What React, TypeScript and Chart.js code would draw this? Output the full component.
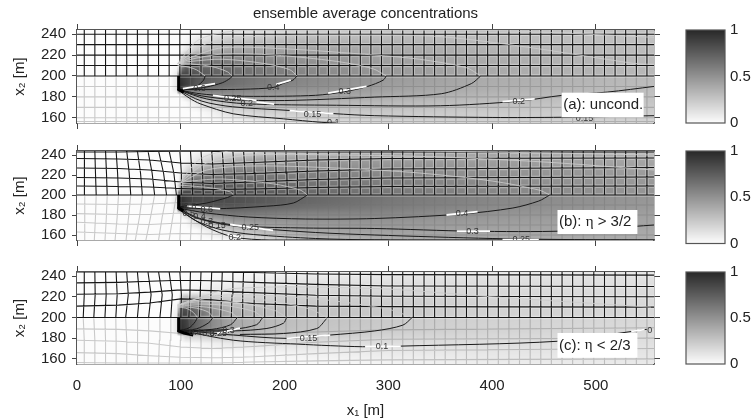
import { useEffect, useRef } from "react";
import { Chart, registerables } from "chart.js";

Chart.register(...registerables);
Chart.defaults.font.family = '"Liberation Sans", Arial, sans-serif';

const TITLE = "ensemble average concentrations";
const X_TICKS = [0, 100, 200, 300, 400, 500];
const Y_TICKS = [160, 180, 200, 220, 240];
const BAR_TICKS = [0, 0.5, 1];
const BAR_LEVELS = [0, 1];

const HEAT_X = [90, 96, 98, 100, 105, 115, 130, 150, 180, 220, 300, 400, 556];
const HEAT_Y = [244, 235, 225, 215, 210, 205, 200, 192, 187, 182, 175, 165, 155];

const heatA = [
  [0, 0, 0, 0, 0, 0.01, 0.05, 0.1, 0.14, 0.19, 0.25, 0.27, 0.27],
  [0, 0, 0, 0, 0.02, 0.08, 0.16, 0.24, 0.28, 0.32, 0.33, 0.31, 0.28],
  [0, 0, 0, 0.03, 0.1, 0.24, 0.36, 0.42, 0.42, 0.42, 0.4, 0.35, 0.3],
  [0, 0, 0.03, 0.2, 0.45, 0.6, 0.62, 0.58, 0.55, 0.5, 0.44, 0.38, 0.31],
  [0, 0.02, 0.1, 0.45, 0.72, 0.72, 0.68, 0.64, 0.6, 0.54, 0.46, 0.39, 0.32],
  [0, 0.05, 0.3, 0.7, 0.8, 0.76, 0.72, 0.68, 0.62, 0.55, 0.47, 0.39, 0.32],
  [0, 0.1, 0.82, 0.92, 0.88, 0.8, 0.74, 0.68, 0.62, 0.56, 0.47, 0.38, 0.31],
  [0, 0.1, 0.92, 0.96, 0.9, 0.78, 0.7, 0.66, 0.6, 0.54, 0.45, 0.37, 0.3],
  [0, 0.1, 0.96, 0.92, 0.72, 0.68, 0.62, 0.58, 0.54, 0.5, 0.43, 0.36, 0.29],
  [0, 0, 0, 0.02, 0.2, 0.4, 0.5, 0.5, 0.47, 0.44, 0.39, 0.33, 0.28],
  [0, 0, 0, 0, 0.01, 0.1, 0.22, 0.3, 0.34, 0.34, 0.32, 0.29, 0.26],
  [0, 0, 0, 0, 0, 0, 0.05, 0.14, 0.2, 0.23, 0.24, 0.23, 0.22],
  [0, 0, 0, 0, 0, 0, 0, 0.02, 0.08, 0.14, 0.18, 0.19, 0.19],
];
const heatB = [
  [0, 0, 0, 0, 0, 0.02, 0.06, 0.14, 0.22, 0.3, 0.36, 0.38, 0.36],
  [0, 0, 0, 0, 0.02, 0.1, 0.22, 0.36, 0.44, 0.46, 0.45, 0.44, 0.4],
  [0, 0, 0, 0.03, 0.14, 0.34, 0.5, 0.56, 0.56, 0.54, 0.52, 0.49, 0.44],
  [0, 0, 0.03, 0.22, 0.5, 0.66, 0.7, 0.7, 0.66, 0.62, 0.58, 0.52, 0.46],
  [0, 0.02, 0.1, 0.5, 0.72, 0.76, 0.76, 0.74, 0.7, 0.66, 0.6, 0.54, 0.47],
  [0, 0.05, 0.35, 0.7, 0.8, 0.82, 0.8, 0.78, 0.74, 0.68, 0.61, 0.55, 0.48],
  [0, 0.1, 0.85, 0.95, 0.9, 0.86, 0.84, 0.82, 0.78, 0.72, 0.64, 0.56, 0.48],
  [0, 0.1, 0.95, 0.98, 0.92, 0.84, 0.84, 0.82, 0.76, 0.7, 0.62, 0.55, 0.47],
  [0, 0.1, 0.98, 0.95, 0.8, 0.76, 0.74, 0.74, 0.7, 0.66, 0.6, 0.53, 0.46],
  [0, 0, 0, 0.03, 0.3, 0.5, 0.6, 0.64, 0.62, 0.58, 0.56, 0.5, 0.44],
  [0, 0, 0, 0, 0.02, 0.2, 0.38, 0.48, 0.5, 0.5, 0.5, 0.46, 0.42],
  [0, 0, 0, 0, 0, 0.01, 0.1, 0.26, 0.36, 0.42, 0.44, 0.42, 0.4],
  [0, 0, 0, 0, 0, 0, 0, 0.04, 0.16, 0.3, 0.38, 0.38, 0.38],
];
const heatC = [
  [0, 0, 0, 0, 0, 0, 0, 0.01, 0.03, 0.05, 0.08, 0.1, 0.11],
  [0, 0, 0, 0, 0, 0.01, 0.03, 0.05, 0.08, 0.11, 0.13, 0.14, 0.13],
  [0, 0, 0, 0, 0.01, 0.04, 0.08, 0.12, 0.16, 0.18, 0.18, 0.17, 0.15],
  [0, 0, 0.05, 0.45, 0.55, 0.45, 0.32, 0.26, 0.24, 0.24, 0.22, 0.19, 0.16],
  [0, 0.03, 0.3, 0.78, 0.78, 0.62, 0.46, 0.34, 0.28, 0.27, 0.23, 0.2, 0.17],
  [0, 0.06, 0.5, 0.85, 0.84, 0.7, 0.52, 0.38, 0.31, 0.28, 0.24, 0.2, 0.17],
  [0, 0.1, 0.85, 0.92, 0.88, 0.72, 0.54, 0.4, 0.32, 0.28, 0.24, 0.2, 0.17],
  [0, 0.1, 0.92, 0.96, 0.9, 0.72, 0.54, 0.4, 0.32, 0.27, 0.23, 0.19, 0.16],
  [0, 0.1, 0.96, 0.98, 0.9, 0.7, 0.48, 0.38, 0.3, 0.26, 0.22, 0.19, 0.16],
  [0, 0, 0, 0.05, 0.2, 0.2, 0.24, 0.25, 0.24, 0.21, 0.19, 0.17, 0.15],
  [0, 0, 0, 0, 0.01, 0.03, 0.06, 0.09, 0.11, 0.13, 0.14, 0.14, 0.13],
  [0, 0, 0, 0, 0, 0, 0, 0.01, 0.02, 0.05, 0.08, 0.1, 0.11],
  [0, 0, 0, 0, 0, 0, 0, 0, 0, 0.01, 0.04, 0.07, 0.09],
];

// mesh columns (m)
const meshX = [7, 17.2, 27.5, 37.7, 47.9, 58.2, 68.4, 78.6, 88.8, 99.1, 109.3, 119.5, 129.8, 140, 150.2, 160.5, 170.7, 180.9, 191.1, 201.4, 211.6, 221.8, 232.1, 242.3, 252.5, 262.8, 273, 283.2, 293.4, 303.7, 313.9, 324.1, 334.4, 344.6, 354.8, 365.1, 375.3, 385.5, 395.7, 406, 416.2, 426.4, 436.7, 446.9, 457.1, 467.4, 477.6, 487.8, 498, 508.3, 518.5, 528.7, 539, 549.2];
const shiftY = [155, 178, 200, 222, 244];
const shiftA: number[][] = [];
const shiftB = [
  [0, 0.3, 0.6, 0.3, 0], [-0.5, 0.6, 1.3, 0.6, 0], [-0.5, 0.8, 1.6, 0.9, 0], [-1, 1, 2.3, 1.4, 0],
  [-0.6, 1.8, 3.9, 2.4, 0], [-2, 2, 4.8, 3, 0], [-2, 2.5, 6.4, 4, 0], [0, 3.5, 7.7, 4.8, 0],
  [0, 3.5, 7, 4.5, 0], [0, 1, 1.5, 1.5, 0], [0, 1, 2.2, 1.5, 0], [0, 1, 2.2, 1.5, 0],
  [0, 1, 2.2, 1.5, 0], [0, 1, 2.2, 1.5, 0], [0, 1, 2.2, 1.5, 0], [0, 1, 2.2, 1.5, 0],
  [0, 0.6, 1.2, 0.8, 0], [0, 0.6, 1.2, 0.8, 0], [0, 0.6, 1.2, 0.8, 0], [0, 0.6, 1.2, 0.8, 0],
  [0, 0.6, 1.2, 0.8, 0],
];
const shiftC = [
  [0, 0, -1, 0, 0], [0, 0, -1, 0.3, 0], [0, 0, -0.6, 0.6, 0], [0, 0, -0.3, 1, 0],
  [0, 0, -1, 1.5, 0], [0, 0.3, 0, 2, 0], [0, 0.5, 0.6, 3, 0], [0, 0.8, 1.3, 3.5, 0],
  [0, 1, 1.6, 3, 0], [0, 0.5, 1, 1.5, 0], [0, 0, -1.5, -0.5, 0], [0, 0, -1.5, -0.8, 0],
  [0, 0, -1.5, -0.8, 0], [0, 0, -1.5, -0.8, 0], [0, 0, -1.5, -0.8, 0], [0, 0, -1.5, -0.8, 0],
];

// mesh rows: y at these x knots
const rowX = [0, 40, 70, 100, 130, 170, 230, 300, 556];
const rowsUpperA = [
  [240, 240, 240, 240, 240, 240, 240, 240, 240],
  [230, 230, 230, 230, 230, 230, 230, 230, 230],
  [220, 220, 220, 220, 220, 220, 220, 220, 220],
  [210, 210, 210, 210, 210, 210, 210, 210, 210],
  [200, 200, 200, 200, 200, 200, 200, 200, 200],
];
const rowsLowerA = [
  [190, 190, 190, 190, 190, 190, 190, 190, 190],
  [180, 180, 180, 180, 180, 180, 180, 180, 180],
  [170, 170, 170, 170, 170, 170, 170, 170, 170],
  [160, 160, 160, 160, 160, 160, 160, 160, 160],
  [156.5, 156.5, 156.5, 156.5, 156.5, 156.5, 156.5, 156.5, 156.5],
];
const rowsUpperB = [
  [243, 243, 243.5, 243.8, 243.8, 243.5, 243, 243, 243],
  [236.5, 236, 235, 232, 231, 232.5, 235, 236.5, 237],
  [227, 226.5, 225, 222, 220.5, 221.5, 224, 226, 227.5],
  [217.5, 217, 216, 213, 211.5, 213, 215.5, 217, 218],
  [209, 208.5, 208, 206.5, 205.5, 206, 207.5, 208.5, 209],
  [200, 200, 200, 200, 200, 200, 200, 200, 200],
];
const rowsLowerB = [
  [191, 190.5, 191, 192.5, 192, 191, 190.5, 190, 190],
  [181.4, 180.5, 180.5, 182, 181, 180.5, 180, 180, 180],
  [172.7, 171, 170.5, 172, 171, 170.5, 170, 170, 170],
  [163, 161.5, 160.5, 161.5, 161, 160.5, 160, 160, 160],
];
const rowsUpperC = [
  [244, 244, 244, 244, 244, 243.5, 242, 241.5, 241],
  [233.5, 234, 235, 236, 235.5, 234, 232, 230.5, 230],
  [222.5, 223, 224.5, 226.7, 226, 224, 221.5, 220.5, 220],
  [211, 212, 214, 218, 217, 213.5, 211, 210.5, 210],
  [200, 200, 200, 200, 200, 200, 200, 200, 200],
];
const rowsLowerC = [
  [189, 188.5, 187, 184.5, 183, 184, 186, 188, 190],
  [178, 177, 175, 171.5, 170, 172, 176, 179, 180],
  [166, 165, 163, 161.5, 161, 162, 165, 168, 170],
  [156.5, 156, 156, 156, 156, 157, 158, 159, 160],
];

// contours
const lowerA = [
  [[97, 187], [105, 187.2], [115, 190], [122, 196], [123.5, 200]],
  [[97, 187], [110, 187.5], [125, 189.5], [140, 193.5], [148, 198], [149.5, 200]],
  [[97, 187], [130, 187], [160, 187.3], [189, 189], [199, 193], [208, 196], [212, 200]],
  [[97, 187], [115, 183.5], [135, 181.5], [170, 180.5], [230, 181.5], [258, 185], [280, 190], [295, 196], [298, 200]],
  [[97, 187], [120, 181], [150, 177.5], [200, 176.5], [287, 179.8], [351, 183], [380, 192.7], [389, 200]],
  [[97, 187], [125, 178], [163, 173.4], [250, 172], [350, 171.5], [425.7, 175.9], [467, 181.4], [511, 184.6], [556, 190]],
  [[97, 187], [120, 176], [150, 170.5], [205, 167], [247, 164], [287, 162], [400, 160.3], [467, 160.5], [556, 162]],
  [[97, 187], [108, 179], [118.7, 173.4], [150.6, 163.8], [198.8, 159], [236, 155.6], [250, 155]],
];
const upperA = [
  [[123.5, 200], [115, 206], [105, 209], [97, 210]],
  [[149.5, 200], [145, 204], [130, 209], [110, 211.5], [97, 212]],
  [[212, 200], [205, 206], [180, 212], [140, 216], [110, 214], [97, 212]],
  [[298, 200], [285, 207], [250, 214], [190, 220], [140, 221], [110, 216], [97, 212]],
  [[389, 200], [375, 208], [330, 216], [287, 220], [200, 226], [140, 227], [110, 218], [97, 212]],
  [[556, 211], [537, 212], [431, 228], [351, 237.6], [285, 239], [170, 237.7], [125, 231], [99, 213.5]],
  [[556, 237], [400, 243.5], [160, 243.5], [118, 235], [97, 212]],
];
const lowerB = [
  [[97, 188], [125, 192], [145, 197.5], [150.7, 200]],
  [[97, 187.5], [131.5, 186.2], [182.8, 188.8], [208.5, 192], [222, 200]],
  [[97, 187], [125, 182], [165, 178], [220, 176], [287, 176.5], [371, 181], [420, 187], [445, 194], [455.6, 200]],
  [[97, 187], [120, 176], [160, 169], [220, 167], [287, 166.5], [381, 163.8], [470, 164], [556, 170]],
  [[97, 187], [115, 177], [145, 170], [167, 167.2], [230, 162.5], [287, 160], [400, 156.5], [490, 155.3], [556, 155]],
  [[97, 187], [115, 174], [140, 165], [170, 160.5], [230, 156.5], [287, 155.2], [556, 155]],
  [[97, 186], [125, 168], [150.7, 158], [186, 155], [300, 154.8]],
];
const upperB = [
  [[150.7, 200], [148, 203], [130, 207], [110, 209], [97, 210]],
  [[222, 200], [215, 205], [190, 211], [140, 216], [110, 214], [97, 212]],
  [[455.6, 200], [445, 205], [400, 214], [330, 222], [250, 227], [170, 229], [125, 225], [100, 212]],
  [[556, 225], [450, 233], [350, 238], [250, 240], [170, 240], [125, 232], [100, 213]],
  [[556, 240], [400, 243], [300, 244.5], [150, 244], [120, 237], [100, 214]],
];
const lowerC = [
  [[97, 187], [108, 190], [114, 196], [116, 200]],
  [[97, 187], [115, 189], [127, 195], [131, 200]],
  [[97, 187], [130, 188.5], [148, 193], [154.5, 200]],
  [[97, 187], [150.7, 188.7], [173, 193], [179, 200]],
  [[97, 187], [150.7, 187], [183, 189.4], [199, 194.5], [202, 200]],
  [[157, 183.6], [199, 184.5], [231, 189.3], [240.6, 199]],
  [[100, 187.7], [150.7, 183], [202, 179.8], [243.8, 183], [287, 187], [314, 192.6], [323, 200]],
  [[99, 187.7], [150.7, 178], [213, 174.2], [275, 171.7], [312, 172.3], [463, 177], [531, 186], [549, 188.5]],
];
const upperC = [
  [[116, 200], [112, 205], [105, 209], [97, 210]],
  [[131, 200], [127, 205], [115, 209], [97, 211]],
  [[154.5, 200], [148, 205], [125, 210], [97, 212]],
  [[179, 200], [170, 206], [140, 212], [110, 213], [97, 212]],
  [[202, 200], [190, 207], [150, 215], [115, 215], [97, 212]],
  [[240.6, 200], [225, 208], [180, 217], [130, 219], [100, 213]],
  [[323, 200], [300, 208], [230, 218], [150, 222], [115, 218], [100, 213]],
  [[553, 210], [400, 220], [287, 228], [150.7, 228], [105.8, 215], [98, 212]],
];
const sourceA = [[[98, 200], [98, 187], [103, 184.5]]];
const sourceB = [[[98, 200], [98, 187], [103, 184]]];
const sourceC = [[[98, 200], [98, 187], [103, 185], [112, 183]]];

// white label breaks on contours
const whiteA = [
  [[102, 188], [133, 192.7]], [[192, 192], [206, 196]], [[242, 183.5], [279, 190]],
  [[131, 181.4], [173, 176.6]], [[173, 175], [190, 173]], [[205, 166.8], [247, 164]], [[410, 175.5], [441, 178]],
];
const whiteB = [
  [[106, 188.8], [138, 186.2]], [[147.5, 170.5], [189, 164.7]], [[145, 160.5], [158, 157.5]],
  [[356, 180], [386, 183.3]], [[366, 163.9], [398, 163.9]], [[410, 155.4], [445, 155.4]],
];
const whiteC = [
  [[135, 184.7], [157, 189.6]], [[202, 179.8], [244, 183]], [[277.6, 171.7], [312, 172.3]], [[534, 186.6], [547, 188.3]],
];

const labelsA = [
  { x: 118, y: 188, t: "0.6" }, { x: 189, y: 188.8, t: "0.4" }, { x: 258, y: 185.2, t: "0.3" },
  { x: 150, y: 178, t: "0.25" }, { x: 163.6, y: 173.4, t: "0.2" }, { x: 227, y: 163, t: "0.15" },
  { x: 247, y: 155, t: "0.1" }, { x: 425.7, y: 175.9, t: "0.2" }, { x: 489, y: 159.5, t: "0.15" },
];
const labelsB = [
  { x: 109, y: 188.8, t: "0.8" }, { x: 125, y: 185.7, t: "0.6" }, { x: 107.6, y: 181.4, t: "0.5" },
  { x: 118, y: 178.5, t: "0.4" }, { x: 125, y: 173, t: "0.3" }, { x: 135, y: 169.5, t: "0.15" },
  { x: 167, y: 167.2, t: "0.25" }, { x: 152, y: 157, t: "0.2" }, { x: 371, y: 181, t: "0.4" },
  { x: 381, y: 163.8, t: "0.3" }, { x: 428, y: 155.5, t: "0.25" },
];
const labelsC = [
  { x: 113.9, y: 185.2, t: "0.4" }, { x: 126.7, y: 184.7, t: "0.3" }, { x: 136, y: 184.7, t: "0.25" },
  { x: 146, y: 187, t: "0.3" }, { x: 223, y: 179.8, t: "0.15" }, { x: 294, y: 171.5, t: "0.1" },
  { x: 552, y: 187.8, t: "0" },
];

const notes = [
  { box: [467, 546, 160.5, 184], parts: ["(a): uncond."] },
  { box: [463, 540, 161, 185], parts: ["(b): ", "η", " > 3/2"] },
  { box: [463, 540, 161, 185], parts: ["(c): ", "η", " < 2/3"] },
];

const gray = (v: number) => {
  const g = Math.round(252 - 212 * Math.max(0, Math.min(1, v)));
  return `rgb(${g},${g},${g})`;
};

function lookup(a: number[], v: number) {
  const asc = a[a.length - 1] > a[0];
  let i = 0;
  for (; i < a.length - 2; i++) {
    if (asc ? v < a[i + 1] : v > a[i + 1]) break;
  }
  const t = Math.max(0, Math.min(1, (v - a[i]) / (a[i + 1] - a[i])));
  return [i, t];
}

const heatPlugin = (xs: number[], ys: number[], table: number[][]) => ({
  id: "heat",
  beforeDatasetsDraw(chart: any) {
    const { left, right, top, bottom } = chart.chartArea;
    const sx = chart.scales.x, sy = chart.scales.y;
    const { ctx } = chart;
    ctx.save();
    for (let py = Math.floor(top); py < bottom; py++) {
      const [j, v] = lookup(ys, sy.getValueForPixel(py + 0.5));
      for (let px = Math.floor(left); px < right; px++) {
        const [i, u] = lookup(xs, sx.getValueForPixel(px + 0.5));
        const a = table[j][i] * (1 - u) + table[j][i + 1] * u;
        const b = table[j + 1][i] * (1 - u) + table[j + 1][i + 1] * u;
        ctx.fillStyle = gray(a * (1 - v) + b * v);
        ctx.fillRect(px, py, 1, 1);
      }
    }
    ctx.restore();
  },
});

const notesPlugin = (labels: { x: number; y: number; t: string }[], note: { box: number[]; parts: string[] }) => ({
  id: "notes",
  afterDatasetsDraw(chart: any) {
    const { ctx, chartArea: ca } = chart;
    const sx = chart.scales.x, sy = chart.scales.y;
    ctx.save();
    ctx.beginPath();
    ctx.rect(ca.left, ca.top, ca.right - ca.left, ca.bottom - ca.top);
    ctx.clip();
    ctx.font = '9px "Liberation Sans"';
    ctx.fillStyle = "#333";
    ctx.textAlign = "center";
    ctx.textBaseline = "middle";
    labels.forEach((l) => ctx.fillText(l.t, sx.getPixelForValue(l.x), sy.getPixelForValue(l.y)));
    const [x0, x1, y0, y1] = note.box;
    const bx = sx.getPixelForValue(x0), ex = sx.getPixelForValue(x1);
    const by = sy.getPixelForValue(y1), ey = sy.getPixelForValue(y0);
    ctx.fillStyle = "#fff";
    ctx.fillRect(bx, by, ex - bx, ey - by);
    ctx.fillStyle = "#222";
    ctx.textAlign = "left";
    let tx = bx + 1.5;
    note.parts.forEach((p, i) => {
      ctx.font = i === 1 ? '15px "Liberation Serif"' : '15px "Liberation Sans"';
      ctx.fillText(p, tx, (by + ey) / 2);
      tx += ctx.measureText(p).width;
    });
    ctx.restore();
  },
});

const polyline = (lines: number[][][]) => {
  const out: { x: number; y: number }[] = [];
  lines.forEach((l) => {
    l.forEach(([x, y]) => out.push({ x, y }));
    out.push({ x: NaN, y: NaN });
  });
  return out;
};
const line = (lines: number[][][], color: string, width: number, tension = 0) => ({
  type: "scatter",
  showLine: true,
  data: polyline(lines),
  borderColor: color,
  borderWidth: width,
  pointRadius: 0,
  tension,
  fill: false,
});

function meshColumns(shift: number[][], from: number, to: number) {
  return meshX.map((x, k) => {
    const s = shift[k] || [0, 0, 0, 0, 0];
    return shiftY.slice(from, to).map((y, n) => [x + s[n + from], y]);
  });
}
const meshRows = (rows: number[][]) => rows.map((r) => r.map((y, i) => [rowX[i], y]));

const tickSet = (arr: number[]) => (axis: any) => {
  axis.ticks = arr.map((value) => ({ value }));
};

interface PanelSpec {
  heat: number[][];
  shift: number[][];
  rowsUp: number[][];
  rowsLow: number[][];
  upper: number[][][];
  lower: number[][][];
  source: number[][][];
  white: number[][][];
  labels: { x: number; y: number; t: string }[];
  note: { box: number[]; parts: string[] };
  topH: number;
  bottomH: number;
  showX: boolean;
  title?: string;
}

function panelConfig(p: PanelSpec): any {
  const border = { color: "#555", width: 1.4 };
  const tick = { drawOnChartArea: false, tickColor: "#444", tickLength: 6, tickWidth: 1 };
  const up = [...meshColumns(p.shift, 2, 5), ...meshRows(p.rowsUp)];
  const low = [...meshColumns(p.shift, 0, 3), ...meshRows(p.rowsLow)];
  return {
    type: "scatter",
    data: {
      datasets: [
        line(p.source, "#000", 3),
        line(p.white, "#fff", 1.8),
        line(p.lower, "#1a1a1a", 1, 0.3),
        line(p.upper, "rgba(205,205,205,0.8)", 1, 0.3),
        line(up, "#151515", 1.1),
        line(up, "rgba(255,255,255,0.32)", 3.4),
        line(low, "rgba(110,110,110,0.36)", 1.1),
      ],
    },
    options: {
      responsive: false,
      animation: false,
      layout: { padding: 0 },
      plugins: {
        legend: { display: false },
        tooltip: { enabled: false },
        title: p.title
          ? { display: true, text: p.title, color: "#222", font: { size: 15, weight: "normal" }, padding: { top: 5, bottom: 0 } }
          : { display: false },
      },
      scales: {
        x: {
          type: "linear",
          min: 0,
          max: 556,
          position: "bottom",
          border,
          grid: { ...tick, drawTicks: !p.showX },
          afterBuildTicks: tickSet(X_TICKS),
          afterFit: (s: any) => { s.height = p.bottomH; },
          ticks: {
            display: p.showX,
            color: "#222",
            font: { size: 15 },
            padding: 13,
            maxRotation: 0,
            autoSkip: false,
            callback: (v: number) => String(v),
          },
          title: p.showX
            ? { display: true, text: "x₁ [m]", color: "#222", font: { size: 15 }, padding: { top: 0, bottom: 0 } }
            : { display: false },
        },
        xTop: {
          type: "linear",
          axis: "x",
          min: 0,
          max: 556,
          position: "top",
          border,
          grid: tick,
          afterBuildTicks: tickSet(X_TICKS),
          afterFit: (s: any) => { s.height = p.topH; },
          ticks: { display: false },
        },
        y: {
          type: "linear",
          min: 155,
          max: 244,
          position: "left",
          border,
          grid: { ...tick, tickLength: 5 },
          afterBuildTicks: tickSet(Y_TICKS),
          afterFit: (s: any) => { s.width = 77; },
          ticks: { color: "#222", font: { size: 15 }, padding: 6, autoSkip: false, callback: (v: number) => String(v) },
          title: { display: true, text: "x₂ [m]", color: "#222", font: { size: 15 }, padding: { top: 11, bottom: 0 } },
        },
        yRight: {
          type: "linear",
          axis: "y",
          min: 155,
          max: 244,
          position: "right",
          border,
          grid: tick,
          afterBuildTicks: tickSet(Y_TICKS),
          afterFit: (s: any) => { s.width = 77; },
          ticks: { display: false },
        },
      },
    },
    plugins: [heatPlugin(HEAT_X, HEAT_Y, p.heat), notesPlugin(p.labels, p.note)],
  };
}

function barConfig(topPad: number, bottomPad: number): any {
  const framePlugin = {
    id: "frame",
    afterDatasetsDraw(chart: any) {
      const { ctx, chartArea: ca } = chart;
      ctx.save();
      ctx.strokeStyle = "#555";
      ctx.lineWidth = 1.2;
      ctx.strokeRect(ca.left, ca.top, ca.right - ca.left, ca.bottom - ca.top);
      ctx.restore();
    },
  };
  return {
    type: "scatter",
    data: { datasets: [{ data: BAR_LEVELS.map((v) => ({ x: 0.5, y: v })), pointRadius: 0 }] },
    options: {
      responsive: false,
      animation: false,
      layout: { padding: { left: 6, right: 0, top: topPad, bottom: bottomPad } },
      plugins: { legend: { display: false }, tooltip: { enabled: false } },
      scales: {
        x: { type: "linear", min: 0, max: 1, display: false },
        y: {
          type: "linear",
          min: 0,
          max: 1,
          position: "right",
          border: { display: false },
          grid: { display: false, drawTicks: false },
          afterBuildTicks: tickSet(BAR_TICKS),
          afterFit: (s: any) => { s.width = 26; },
          ticks: { color: "#222", font: { size: 15 }, padding: 5, autoSkip: false, callback: (v: number) => String(v) },
        },
      },
    },
    plugins: [heatPlugin([0, 1], [0, 1], [[0, 0], [1, 1]]), framePlugin],
  };
}

const PANELS: { top: number; h: number; spec: PanelSpec }[] = [
  { top: 0, h: 140, spec: { heat: heatA, shift: shiftA, rowsUp: rowsUpperA, rowsLow: rowsLowerA, upper: upperA, lower: lowerA, source: sourceA, white: whiteA, labels: labelsA, note: notes[0], topH: 7, bottomH: 17, showX: false, title: TITLE } },
  { top: 130, h: 125, spec: { heat: heatB, shift: shiftB, rowsUp: rowsUpperB, rowsLow: rowsLowerB, upper: upperB, lower: lowerB, source: sourceB, white: whiteB, labels: labelsB, note: notes[1], topH: 21, bottomH: 11.5, showX: false } },
  { top: 255, h: 165, spec: { heat: heatC, shift: shiftC, rowsUp: rowsUpperC, rowsLow: rowsLowerC, upper: upperC, lower: lowerC, source: sourceC, white: whiteC, labels: labelsC, note: notes[2], topH: 17, bottomH: 56, showX: true } },
];
const BARS = [
  { top: 15, h: 124, pt: 15, pb: 16 },
  { top: 136, h: 122, pt: 15, pb: 14.5 },
  { top: 257, h: 122, pt: 15, pb: 15 },
];

export default function App() {
  const hostRef = useRef<HTMLDivElement>(null);
  useEffect(() => {
    const host = hostRef.current!;
    const charts: Chart[] = [];
    const add = (left: number, top: number, w: number, h: number, cfg: any) => {
      const c = document.createElement("canvas");
      c.width = w;
      c.height = h;
      c.style.cssText = `position:absolute;left:${left}px;top:${top}px;width:${w}px;height:${h}px;filter:blur(0.35px)`;
      host.appendChild(c);
      charts.push(new Chart(c, cfg));
    };
    PANELS.forEach((p) => add(0, p.top, 731, p.h, panelConfig(p.spec)));
    BARS.forEach((b) => add(680, b.top, 71, b.h, barConfig(b.pt, b.pb)));
    return () => {
      charts.forEach((c) => c.destroy());
      host.innerHTML = "";
    };
  }, []);
  return <div ref={hostRef} style={{ position: "absolute", left: 0, top: 0, width: 751, height: 420, background: "#fff" }} />;
}
